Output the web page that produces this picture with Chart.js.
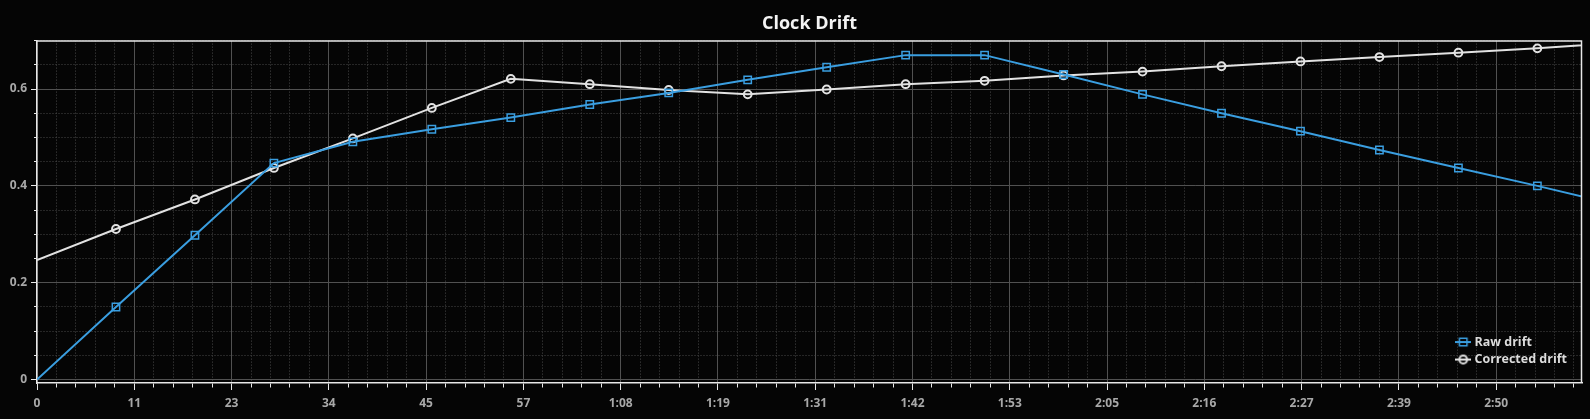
<!DOCTYPE html>
<html><head><meta charset="utf-8">
<script src="https://cdn.jsdelivr.net/npm/chart.js@4.4.0/dist/chart.umd.min.js"></script>
<style>html,body{margin:0;padding:0;background:#050505;overflow:hidden}canvas{display:block}</style>
</head><body>
<canvas id="c" width="1590" height="419"></canvas>
<script>
// ---- data (seconds, drift) ----
const times = [0, 9.2, 18.4, 27.6, 36.8, 46.0, 55.2, 64.4, 73.6, 82.8, 92.0, 101.2, 110.4, 119.6, 128.8, 138.0, 147.2, 156.4, 165.6, 174.8, 184.0];
const rawDrift = [0, 0.150, 0.298, 0.447, 0.491, 0.517, 0.541, 0.568, 0.592, 0.619, 0.645, 0.670, 0.670, 0.630, 0.589, 0.550, 0.513, 0.474, 0.437, 0.400, 0.361];
const correctedDrift = [0.247, 0.311, 0.372, 0.437, 0.498, 0.561, 0.621, 0.610, 0.598, 0.589, 0.599, 0.610, 0.617, 0.628, 0.636, 0.647, 0.657, 0.666, 0.675, 0.684, 0.695];
const seriesNames = ['Raw drift', 'Corrected drift'];
const xTickLabels = ['0','11','23','34','45','57','1:08','1:19','1:31','1:42','1:53','2:05','2:16','2:27','2:39','2:50'];
const yTickLabels = ['0','0.2','0.4','0.6'];
const xMin = 0, xMax = 180, yMin = -0.007, yMax = 0.7;
const xMajorStep = 34 / 3, xMinorPerMajor = 5;
const yMajorStep = 0.2, yMinorPerMajor = 4;

// ---- styles ----
const BG = '#050505';
const BLUE = '#3a9ee0';
const WHITE = '#e2e2e2';
const FRAME = '#e8e8e8';
const GRID_MAJOR = '#515151';
const GRID_MINOR = '#484848';
const TICK_TEXT = '#a8a8a8';
const FONT = "'Open Sans', 'Noto Sans', sans-serif";

function makeLegendIcon(color, style) {
  const c = document.createElement('canvas');
  c.width = 16; c.height = 12;
  const g = c.getContext('2d');
  g.strokeStyle = color;
  g.lineWidth = 2;
  g.beginPath(); g.moveTo(0, 6); g.lineTo(16, 6); g.stroke();
  g.beginPath();
  if (style === 'rect') { g.lineWidth = 1.5; g.rect(4.25, 2.25, 7.5, 7.5); }
  else { g.lineWidth = 2; g.arc(8, 6, 3.9, 0, Math.PI * 2); }
  g.stroke();
  return c;
}

const xy = (vals) => vals.map((v, i) => ({ x: times[i], y: v }));

const layoutPlugin = {
  id: 'layoutTweaks',
  afterLayout(chart) {
    const a = chart.chartArea;
    if (chart.titleBlock) { chart.titleBlock.left = a.left; chart.titleBlock.right = a.right; }
    const lg = chart.legend;
    if (lg) {
      const pad = lg.options.labels.padding;
      const colW = (lg.columnSizes && lg.columnSizes[0]) ? lg.columnSizes[0].width : 110;
      lg.left = a.right - 15 - colW - pad;
      lg.right = a.right;
      lg.top = a.top;
      lg.bottom = a.bottom - 12.2;
      lg.width = lg.right - lg.left;
      lg.height = lg.bottom - lg.top;
    }
  },
  afterDraw(chart) {
    const a = chart.chartArea, ctx = chart.ctx;
    ctx.save();
    ctx.strokeStyle = FRAME;
    ctx.lineWidth = 1.5;
    ctx.beginPath();
    ctx.moveTo(a.left, a.top + 0.5);
    ctx.lineTo(a.right - 0.5, a.top + 0.5);
    ctx.lineTo(a.right - 0.5, a.bottom);
    ctx.stroke();
    ctx.restore();
  }
};

const tickFont = { family: FONT, size: 12, weight: 'bold' };

new Chart(document.getElementById('c'), {
  type: 'line',
  data: {
    datasets: [
      {
        label: seriesNames[0],
        data: xy(rawDrift),
        borderColor: BLUE,
        borderWidth: 2,
        pointStyle: 'rect',
        pointRadius: c => (c.dataIndex === 0 ? 0 : 5.2),
        pointBorderColor: BLUE,
        pointBackgroundColor: 'rgba(0,0,0,0)',
        pointBorderWidth: 1.5,
        tension: 0
      },
      {
        label: seriesNames[1],
        data: xy(correctedDrift),
        borderColor: WHITE,
        borderWidth: 2,
        pointStyle: 'circle',
        pointRadius: c => (c.dataIndex === 0 ? 0 : 3.9),
        pointBorderColor: WHITE,
        pointBackgroundColor: 'rgba(0,0,0,0)',
        pointBorderWidth: 2,
        tension: 0
      }
    ]
  },
  options: {
    responsive: false,
    animation: false,
    events: [],
    layout: { padding: { left: 0, right: 8, top: 0, bottom: 0 } },
    plugins: {
      title: {
        display: true,
        text: 'Clock Drift',
        color: '#f4f4f4',
        font: { family: FONT, size: 18, weight: 'bold' },
        padding: { top: 13, bottom: 6 }
      },
      legend: {
        display: true,
        position: 'chartArea',
        align: 'end',
        labels: {
          usePointStyle: true,
          pointStyleWidth: 10,
          padding: 5,
          color: '#dcdcdc',
          font: { family: FONT, size: 12.5, weight: 'bold' },
          generateLabels: (chart) => chart.data.datasets.map((ds, i) => ({
            text: ds.label,
            datasetIndex: i,
            hidden: false,
            fontColor: '#dcdcdc',
            pointStyle: makeLegendIcon(ds.borderColor, ds.pointStyle),
            lineWidth: 0,
            strokeStyle: ds.borderColor,
            fillStyle: 'rgba(0,0,0,0)'
          }))
        }
      },
      tooltip: { enabled: false }
    },
    scales: {
      x: {
        type: 'linear',
        min: xMin,
        max: xMax,
        afterBuildTicks: (scale) => {
          const t = [];
          const step = xMajorStep / xMinorPerMajor;
          for (let i = 0; i * step <= xMax + 1e-9; i++) t.push({ value: i * step, major: i % xMinorPerMajor === 0 });
          scale.ticks = t;
        },
        afterFit: (s) => { s.height = 36; },
        grid: {
          color: c => (c.tick && c.tick.major ? GRID_MAJOR : GRID_MINOR),
          lineWidth: 1,
          tickColor: FRAME,
          tickLength: 7,
          tickWidth: 1,
          tickBorderDash: c => (c.tick && !c.tick.major ? [4, 30] : [])
        },
        border: { color: FRAME, width: 1.5, dash: c => (c.tick && !c.tick.major ? [1, 2] : []) },
        ticks: {
          autoSkip: false,
          maxRotation: 0,
          padding: 6,
          color: TICK_TEXT,
          font: tickFont,
          callback: (v, i, ticks) => (ticks[i].major ? xTickLabels[Math.round(i / xMinorPerMajor)] : '')
        }
      },
      y: {
        type: 'linear',
        min: yMin,
        max: yMax,
        afterBuildTicks: (scale) => {
          const t = [];
          const step = yMajorStep / yMinorPerMajor;
          for (let i = 0; i * step <= yMax + 1e-9; i++) t.push({ value: i * step, major: i % yMinorPerMajor === 0 });
          scale.ticks = t;
        },
        afterFit: (s) => { s.width = 37; },
        grid: {
          color: c => (c.tick && c.tick.major ? GRID_MAJOR : GRID_MINOR),
          lineWidth: 1,
          tickColor: FRAME,
          tickLength: 6,
          tickWidth: 1,
          tickBorderDash: c => (c.tick && !c.tick.major ? [0, 3, 3, 30] : [])
        },
        border: { color: FRAME, width: 1.5, dash: c => (c.tick && !c.tick.major ? [1, 2] : []) },
        ticks: {
          autoSkip: false,
          padding: 4,
          color: TICK_TEXT,
          font: tickFont,
          callback: (v, i, ticks) => (ticks[i].major ? yTickLabels[Math.round(i / yMinorPerMajor)] : '')
        }
      }
    }
  },
  plugins: [layoutPlugin]
});
</script>
</body></html>
